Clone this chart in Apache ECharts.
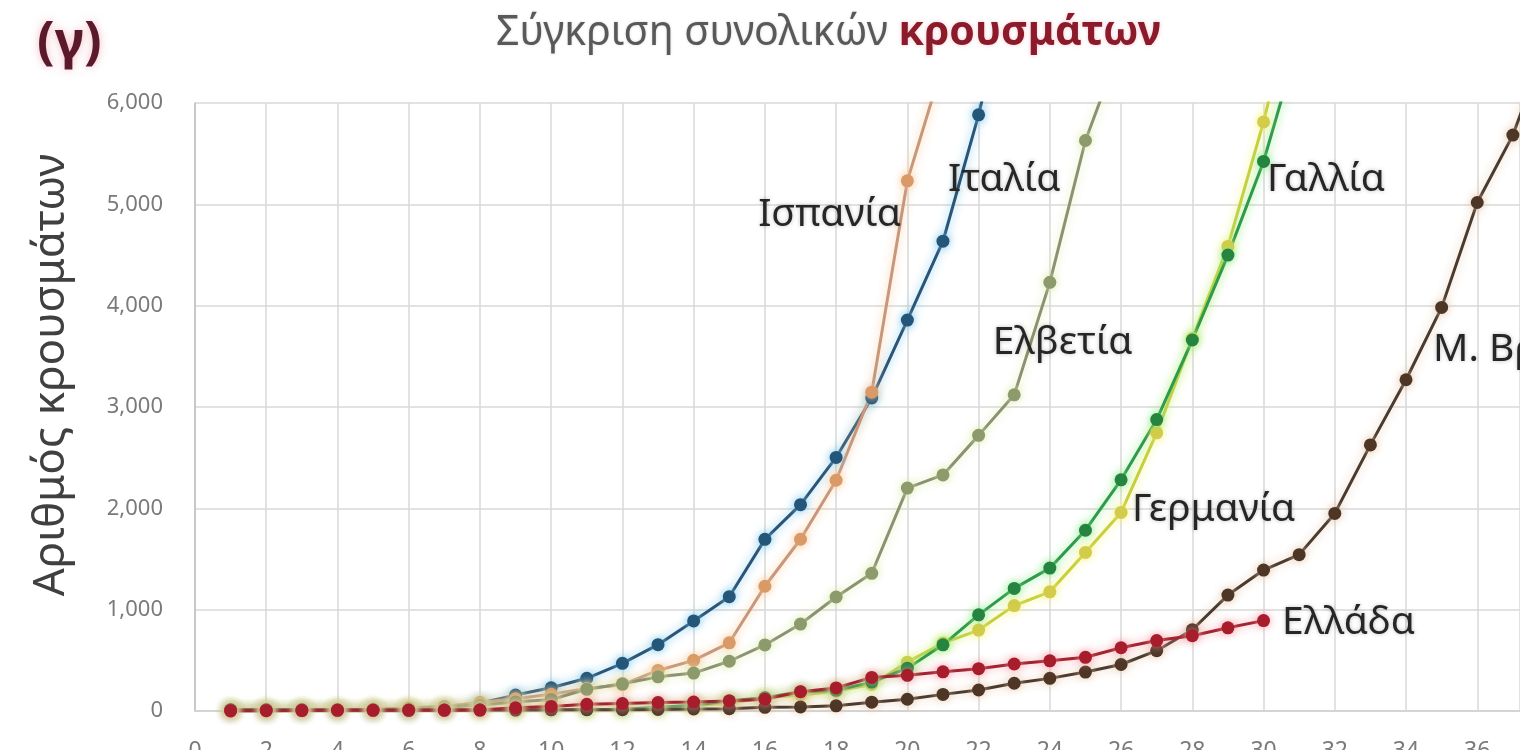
<!DOCTYPE html>
<html>
<head>
<meta charset="utf-8">
<script src="https://cdn.jsdelivr.net/npm/echarts@6/dist/echarts.min.js"></script>
<style>html,body{margin:0;padding:0;background:#fff}#chart{width:1520px;height:750px}</style>
</head>
<body>
<div id="chart"></div>
<script>
// ---- data (day 1 = first element) ----
const xTicks = [0,2,4,6,8,10,12,14,16,18,20,22,24,26,28,30,32,34,36];
const yTicks = [0,1000,2000,3000,4000,5000,6000];
const seriesNames = ['Ιταλία','Ισπανία','Ελβετία','Γερμανία','Γαλλία','Μ. Βρετανία','Ελλάδα'];
const italy = [3,3,3,3,3,3,20,79,157,229,323,470,655,889,1128,1694,2036,2502,3089,3858,4636,5883,7375];
const spain = [2,2,6,13,15,32,45,84,120,165,222,259,400,500,673,1231,1695,2277,3146,5232,6391];
const switzerland = [1,1,8,8,18,27,42,56,90,114,214,268,337,374,491,652,858,1125,1359,2200,2330,2720,3120,4230,5630,6575];
const germany = [16,16,16,16,16,16,16,16,16,16,16,18,26,53,79,130,159,196,262,482,670,799,1040,1176,1565,1960,2745,3675,4585,5813,7272];
const france = [12,12,12,12,12,12,12,12,12,12,14,18,38,57,100,130,191,204,285,423,653,949,1210,1410,1784,2281,2876,3661,4499,5423,6633];
const uk = [9,9,9,9,9,9,9,9,9,13,13,13,15,20,23,36,40,51,87,116,164,207,274,322,384,459,595,802,1144,1391,1543,1950,2626,3269,3983,5018,5683,6650];
const greece = [1,3,4,7,7,7,7,9,31,45,66,73,84,89,99,117,190,228,331,352,387,418,464,495,530,624,695,743,821,892];

const FONT = '"Noto Sans", "DejaVu Sans", sans-serif';
const pairs = arr => arr.map((v, i) => [i + 1, v]);

function mk(name, arr, lineColor, markColor, glow, anchor) {
  return {
    name: name,
    type: 'line',
    data: pairs(arr),
    symbol: 'circle',
    symbolSize: 13,
    clip: true,
    lineStyle: { color: lineColor, width: 3, shadowColor: glow, shadowBlur: 10 },
    itemStyle: { color: markColor, borderWidth: 0, shadowColor: glow, shadowBlur: 8 },
    emphasis: { disabled: true },
    markPoint: {
      symbol: 'circle', symbolSize: 0, animation: false,
      data: [{ coord: anchor, value: name }],
      label: {
        show: true, position: 'right', distance: 0,
        formatter: name,
        fontFamily: FONT, fontSize: 39, color: '#262626',
        textShadowColor: 'rgba(0,0,0,0.25)', textShadowBlur: 4
      }
    }
  };
}

const chart = echarts.init(document.getElementById('chart'), null, { renderer: 'canvas' });
chart.setOption({
  animation: false,
  backgroundColor: '#ffffff',
  title: [
    {
      text: '{a|Σύγκριση συνολικών }{b|κρουσμάτων}',
      left: 491, top: 8,
      textStyle: {
        rich: {
          a: { fontFamily: FONT, fontSize: 41, fontWeight: 'normal', color: '#595959',
               textShadowColor: 'rgba(0,0,0,0.15)', textShadowBlur: 3 },
          b: { fontFamily: FONT, fontSize: 41, fontWeight: 'bold', color: '#8b1a2b',
               textShadowColor: 'rgba(220,100,120,0.35)', textShadowBlur: 4 }
        }
      }
    },
    {
      text: '(γ)', left: 32, top: 12,
      textStyle: { fontFamily: FONT, fontSize: 52, fontWeight: 'bold', color: '#5a1a2b',
        textShadowColor: 'rgba(230,120,140,0.5)', textShadowBlur: 8 }
    }
  ],
  grid: { left: 195, right: 0, top: 103, bottom: 39, containLabel: false, outerBoundsMode: 'none' },
  xAxis: {
    type: 'value', min: 0, max: 37.2, interval: 2,
    axisLine: { show: true, lineStyle: { color: '#cfcfcf', width: 1.5 } },
    axisTick: { show: false },
    splitLine: { show: true, lineStyle: { color: '#d9d9d9', width: 1.5 } },
    axisLabel: {
      margin: 29, fontFamily: FONT, fontSize: 23, color: '#7a7a7a', showMaxLabel: false,
      formatter: v => (xTicks.indexOf(v) >= 0 ? String(v) : '')
    }
  },
  yAxis: {
    type: 'value', min: 0, max: 6000, interval: 1000,
    name: 'Αριθμός κρουσμάτων', nameLocation: 'middle', nameGap: 122,
    nameTextStyle: { fontFamily: FONT, fontSize: 44, color: '#404040', padding: [0, 0, 0, 64] },
    axisLine: { show: true, lineStyle: { color: '#bfbfbf', width: 1.5 } },
    axisTick: { show: false },
    splitLine: { show: true, lineStyle: { color: '#d9d9d9', width: 1.5 } },
    axisLabel: {
      margin: 32, fontFamily: FONT, fontSize: 22, color: '#7a7a7a',
      formatter: v => (yTicks.indexOf(v) >= 0 ? v.toLocaleString('en-US') : '')
    }
  },
  series: [
    mk(seriesNames[0], italy, '#2a5578', '#24567a', 'rgba(120,200,235,0.9)', [21.14, 5240]),
    mk(seriesNames[1], spain, '#c8977a', '#d99a68', 'rgba(250,200,150,0.9)', [15.81, 4895]),
    mk(seriesNames[2], switzerland, '#8a9270', '#8d9a6b', 'rgba(220,235,170,0.9)', [22.40, 3632]),
    mk(seriesNames[3], germany, '#c9cf3c', '#d3cb4a', 'rgba(245,245,120,0.9)', [26.31, 1984]),
    mk(seriesNames[4], france, '#2f9a4b', '#25843f', 'rgba(130,235,130,0.9)', [30.10, 5240]),
    mk(seriesNames[5], uk, '#4b3a2e', '#4d3626', 'rgba(230,200,170,0.9)', [34.76, 3563]),
    mk(seriesNames[6], greece, '#a3232f', '#a81d2c', 'rgba(245,150,160,0.9)', [30.52, 868])
  ]
});
</script>
</body>
</html>
